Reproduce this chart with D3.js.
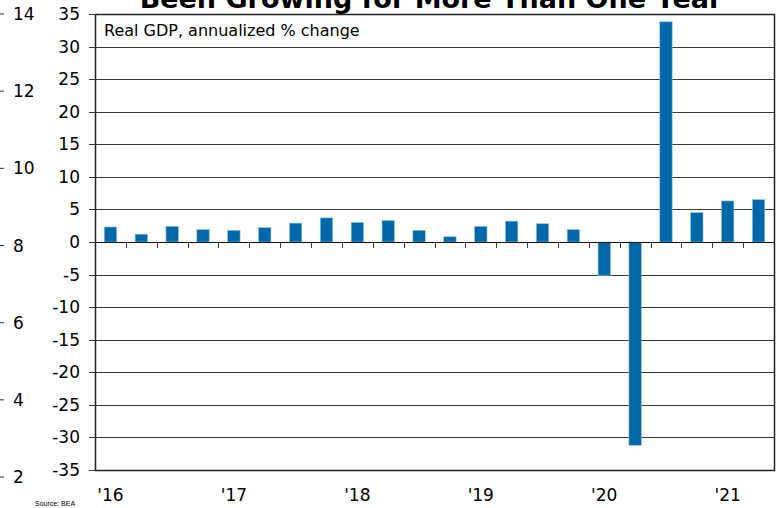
<!DOCTYPE html>
<html>
<head>
<meta charset="utf-8">
<script src="https://cdn.jsdelivr.net/npm/d3@7"></script>
<style>
  body { margin: 0; background: #fff; }
  svg { display: block; }
</style>
</head>
<body>
<svg id="chart" width="781" height="508"></svg>
<script>
// quarterly real GDP, 2016Q1 - 2021Q2
const quarters = ['16Q1','16Q2','16Q3','16Q4','17Q1','17Q2','17Q3','17Q4','18Q1','18Q2','18Q3','18Q4',
  '19Q1','19Q2','19Q3','19Q4','20Q1','20Q2','20Q3','20Q4','21Q1','21Q2']
const gdp = [2.3, 1.2, 2.4, 1.9, 1.8, 2.2, 2.9, 3.7, 3.0, 3.3, 1.8, 0.8,
  2.4, 3.2, 2.8, 1.9, -5.1, -31.2, 33.8, 4.5, 6.3, 6.5]
const yearLabels = ["'16", "'17", "'18", "'19", "'20", "'21"]
const yTicks = [35, 30, 25, 20, 15, 10, 5, 0, -5, -10, -15, -20, -25, -30, -35]
// leftover axis from the neighbouring chart
const leftTicks = [14, 12, 10, 8, 6, 4, 2]

const svg = d3.select('#chart')
const font = 'Verdana, "DejaVu Sans", sans-serif'

const pLeft = 95, pRight = 774, pTop = 14, pBottom = 470

const x = d3.scaleBand().domain(quarters).range([pLeft, pRight]).paddingInner(0.6).paddingOuter(0.3)
const xq = d3.scaleBand().domain(quarters).range([pLeft, pRight])
const y = d3.scaleLinear().domain([-35, 35]).range([pBottom, pTop])
const yL = d3.scaleLinear().domain([2, 14]).range([477, 14])

// title (cut off at the top, as in the source image)
svg.append('text')
  .attr('x', 431).attr('y', 8)
  .attr('text-anchor', 'middle')
  .attr('font-family', font)
  .attr('font-weight', 'bold')
  .attr('font-size', 27)
  .text('Been Growing for More Than One Year')

// left axis
const la = svg.append('g')
la.selectAll('line').data(leftTicks).enter().append('line')
  .attr('x1', 0).attr('x2', 4)
  .attr('y1', d => yL(d)).attr('y2', d => yL(d))
  .attr('stroke', '#333')
la.selectAll('text').data(leftTicks).enter().append('text')
  .attr('x', 13).attr('y', d => yL(d) + 6)
  .attr('font-family', font).attr('font-size', 17)
  .text(d => d)

// grid
const g = svg.append('g')
g.selectAll('.grid').data(yTicks).enter().append('line')
  .attr('class', 'grid')
  .attr('x1', pLeft - 6).attr('x2', pRight)
  .attr('y1', d => Math.round(y(d)) + 0.5).attr('y2', d => Math.round(y(d)) + 0.5)
  .attr('stroke', '#3a3a3a')
  .attr('stroke-width', 1)

g.selectAll('.ylab').data(yTicks).enter().append('text')
  .attr('class', 'ylab')
  .attr('x', 80).attr('y', d => y(d) + 6)
  .attr('text-anchor', 'end')
  .attr('font-family', font).attr('font-size', 17)
  .text(d => d)

// bars
g.selectAll('.bar').data(gdp).enter().append('rect')
  .attr('class', 'bar')
  .attr('x', (d, i) => x(quarters[i]))
  .attr('y', d => y(Math.max(0, d)))
  .attr('width', x.bandwidth())
  .attr('height', d => Math.abs(y(d) - y(0)))
  .attr('fill', '#0067a9')
  .attr('stroke', '#8fbfdf')
  .attr('stroke-width', 0.6)

// ticks between quarters on zero line
g.selectAll('.qt').data(quarters.slice(1)).enter().append('line')
  .attr('x1', d => Math.round(xq(d)) + 0.5).attr('x2', d => Math.round(xq(d)) + 0.5)
  .attr('y1', y(0)).attr('y2', y(0) + 6)
  .attr('stroke', '#333')

// zero line
g.append('line')
  .attr('x1', pLeft).attr('x2', pRight)
  .attr('y1', Math.round(y(0)) + 0.5).attr('y2', Math.round(y(0)) + 0.5)
  .attr('stroke', '#111')

// frame
g.append('rect')
  .attr('x', pLeft + 0.5).attr('y', pTop + 0.5)
  .attr('width', pRight - pLeft).attr('height', pBottom - pTop)
  .attr('fill', 'none')
  .attr('stroke', '#222')
  .attr('stroke-width', 1.5)

// legend label
g.append('rect')
  .attr('x', 99).attr('y', 17).attr('width', 300).attr('height', 26)
  .attr('fill', '#fff')
g.append('text')
  .attr('x', 104).attr('y', 36)
  .attr('font-family', font).attr('font-size', 16)
  .text('Real GDP, annualized % change')

// year labels under the first quarter of each year
g.selectAll('.yr').data(yearLabels).enter().append('text')
  .attr('class', 'yr')
  .attr('x', (d, i) => xq(quarters[i * 4]) + xq.bandwidth() / 2)
  .attr('y', 501)
  .attr('text-anchor', 'middle')
  .attr('font-family', font).attr('font-size', 17)
  .text(d => d)

svg.append('text')
  .attr('x', 35).attr('y', 506)
  .attr('font-family', 'Arial, "Liberation Sans", sans-serif')
  .attr('font-size', 7)
  .text('Source: BEA')
</script>
</body>
</html>
